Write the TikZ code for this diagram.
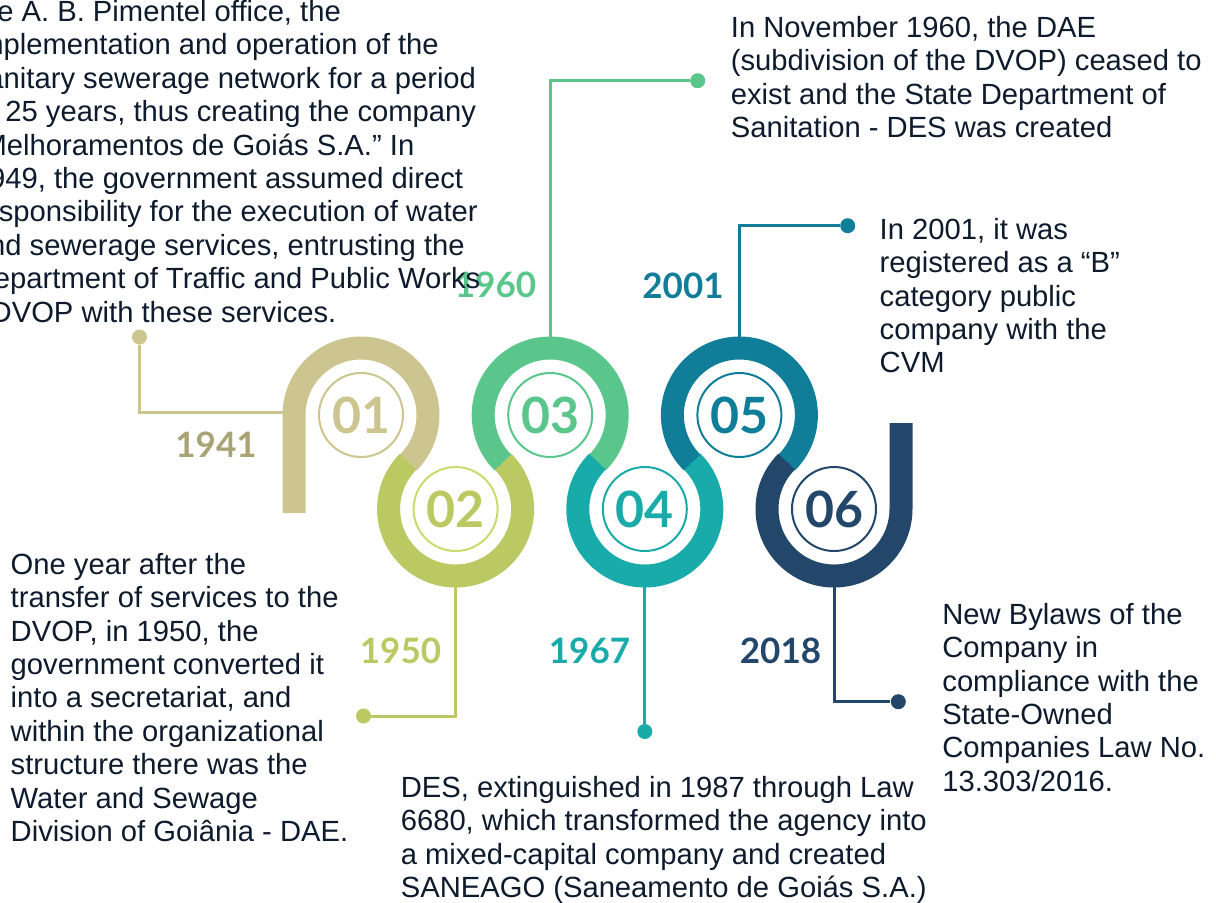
\documentclass[tikz,border=0pt]{standalone}
\usepackage{fontspec}
\setmainfont{Liberation Sans}
\newfontfamily\yearfont{Lato}
\usetikzlibrary{calc}

\definecolor{sand}{RGB}{205,197,143}
\definecolor{sanddark}{RGB}{169,164,117}
\definecolor{lime}{RGB}{187,201,98}
\definecolor{limelight}{RGB}{200,219,110}
\definecolor{mint}{RGB}{91,198,140}
\definecolor{aqua}{RGB}{24,171,170}
\definecolor{petrol}{RGB}{17,126,153}
\definecolor{navy}{RGB}{34,71,107}
\definecolor{ink}{RGB}{14,27,45}

\tikzset{
  band/.style={line width=11.5pt, draw=#1},
  numring/.style={circle, draw=#1, text=#1, line width=1pt, minimum size=42pt, inner sep=0pt,
    font=\yearfont\bfseries\fontsize{25}{25}\selectfont},
  year/.style={anchor=base, inner sep=0pt, text=#1,
    font=\yearfont\bfseries\fontsize{17.5}{17.5}\selectfont},
  dot/.style={circle, fill=#1, minimum size=7.5pt, inner sep=0pt},
  link/.style={draw=#1, line width=1.5pt},
  blurb/.style={anchor=north west, align=left, inner sep=0pt, text=ink,
    font=\fontsize{14.6}{16.7}\selectfont, execute at begin node={\rule{0pt}{12pt}}}
}

\begin{document}
\begin{tikzpicture}[x=0.5pt, y=0.5pt]
\useasboundingbox (0,0) rectangle (1216,-902);
\fill[white] (0,0) rectangle (1216,-902);
\clip (0,0) rectangle (1216,-902);

% ring centres
\coordinate (c1) at (361,-415);
\coordinate (c2) at (455.6,-509);
\coordinate (c3) at (550.2,-415);
\coordinate (c4) at (644.8,-509);
\coordinate (c5) at (739.4,-415);
\coordinate (c6) at (834,-509);

% where the connectors leave the rings
\coordinate (r1) at (285,-412);
\coordinate (r2) at (455.6,-584);
\coordinate (r3) at (550.2,-340);
\coordinate (r4) at (644.8,-584);
\coordinate (r5) at (739.4,-340);
\coordinate (r6) at (834,-584);

% end dots
\node[dot=sand] (d1) at (139.5,-337) {};
\node[dot=lime] (d2) at (363.5,-716) {};
\node[dot=mint] (d3) at (697.7,-80.7) {};
\node[dot=aqua] (d4) at (644.8,-731.5) {};
\node[dot=petrol] (d5) at (847.7,-225.7) {};
\node[dot=navy] (d6) at (898.3,-701.7) {};

% connectors
\draw[link=sand] (r1) -| (d1);
\draw[link=lime] (r2) |- (d2);
\draw[link=mint] (r3) |- (d3);
\draw[link=aqua] (r4) -- (d4);
\draw[link=petrol] (r5) |- (d5);
\draw[link=navy] (r6) |- (d6);

% the winding band
\draw[band=sand] (294,-513) -- (294,-415) arc[start angle=180, end angle=-45, radius=67];
\draw[band=lime] ($(c2)+(135:67)$) arc[start angle=135, end angle=405, radius=67];
\draw[band=mint] ($(c3)+(225:67)$) arc[start angle=225, end angle=-45, radius=67];
\draw[band=aqua] ($(c4)+(135:67)$) arc[start angle=135, end angle=405, radius=67];
\draw[band=petrol] ($(c5)+(225:67)$) arc[start angle=225, end angle=-45, radius=67];
\draw[band=navy] ($(c6)+(135:67)$) arc[start angle=135, end angle=360, radius=67] -- (901,-423);

% step numbers
\node[numring=sand] (n1) at (c1) {01};
\node[numring=limelight, text=lime] (n2) at (c2) {02};
\node[numring=mint] (n3) at (c3) {03};
\node[numring=aqua] (n4) at (c4) {04};
\node[numring=petrol] (n5) at (c5) {05};
\node[numring=navy] (n6) at (c6) {06};

% years
\node[year=sanddark] (y1) at (216,-457) {1941};
\node[year=lime] (y2) at (400.5,-663) {1950};
\node[year=mint] (y3) at (495.5,-297) {1960};
\node[year=aqua] (y4) at (589.5,-663) {1967};
\node[year=petrol] (y5) at (683,-298) {2001};
\node[year=navy] (y6) at (780.5,-663) {2018};

% descriptions
\node[blurb] (t1) at (-27.5,0) {the A. B. Pimentel office, the\\
implementation and operation of the\\
sanitary sewerage network for a period\\
of 25 years, thus creating the company\\
“Melhoramentos de Goiás S.A.” In\\
1949, the government assumed direct\\
responsibility for the execution of water\\
and sewerage services, entrusting the\\
Department of Traffic and Public Works\\
- DVOP with these services.};
\node[blurb] (t2) at (10.3,-552.7) {One year after the\\
transfer of services to the\\
DVOP, in 1950, the\\
government converted it\\
into a secretariat, and\\
within the organizational\\
structure there was the\\
Water and Sewage\\
Division of Goiânia - DAE.};
\node[blurb] (t3) at (730.5,-16) {In November 1960, the DAE\\
(subdivision of the DVOP) ceased to\\
exist and the State Department of\\
Sanitation - DES was created};
\node[blurb] (t4) at (400.4,-776) {DES, extinguished in 1987 through Law\\
6680, which transformed the agency into\\
a mixed-capital company and created\\
SANEAGO (Saneamento de Goiás S.A.)};
\node[blurb] (t5) at (879.3,-217.7) {In 2001, it was\\
registered as a “B”\\
category public\\
company with the\\
CVM};
\node[blurb] (t6) at (942,-602.7) {New Bylaws of the\\
Company in\\
compliance with the\\
State-Owned\\
Companies Law No.\\
13.303/2016.};
\end{tikzpicture}
\end{document}
